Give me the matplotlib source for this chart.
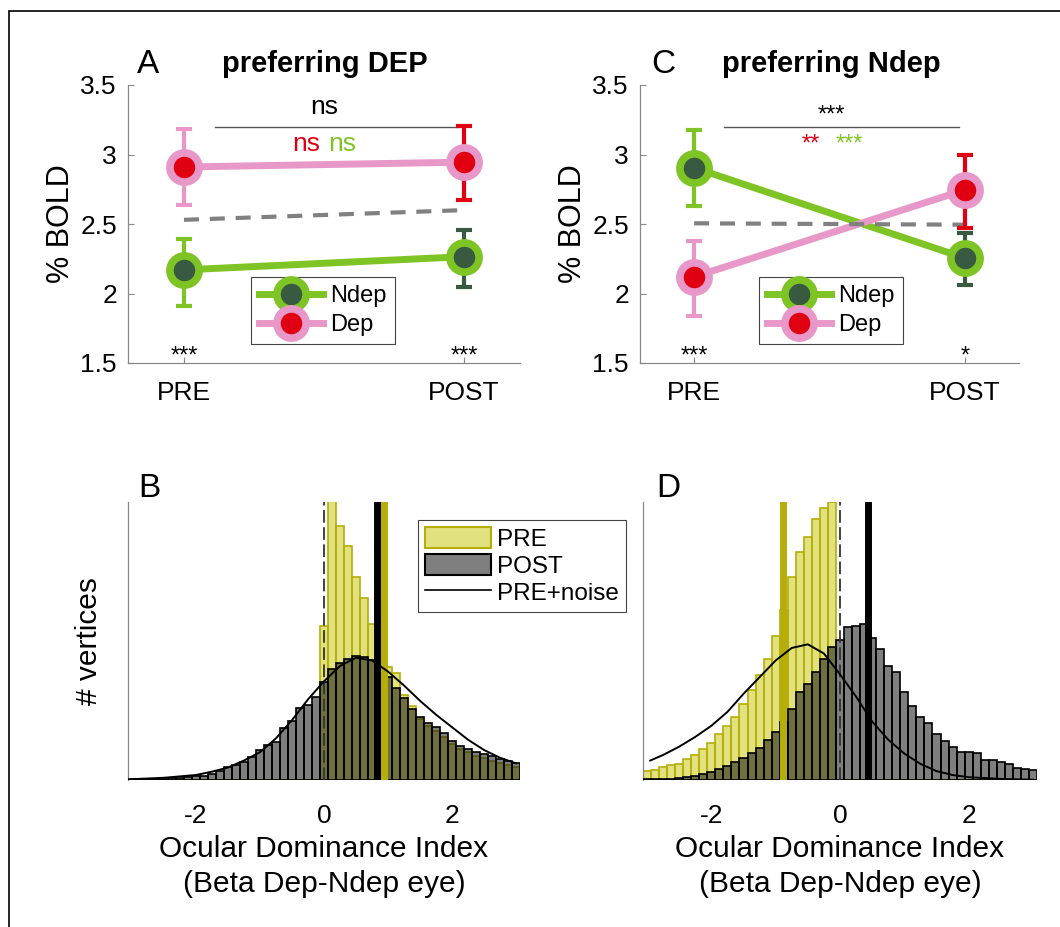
import numpy as np
import matplotlib
matplotlib.use('Agg')
import matplotlib.pyplot as plt
from matplotlib.lines import Line2D
from matplotlib.patches import Patch, Rectangle

plt.rcParams['font.family'] = ['Liberation Sans', 'DejaVu Sans']

# ---- top row data: % BOLD at PRE / POST ----
sessions = ['PRE', 'POST']
xpos = [1, 2]

# A: vertices preferring DEP
a_ndep = [2.17, 2.265]
a_ndep_lo = [1.91, 2.05]
a_ndep_hi = [2.39, 2.46]
a_dep = [2.91, 2.945]
a_dep_lo = [2.64, 2.675]
a_dep_hi = [3.18, 3.205]
a_avg = [2.53, 2.60]

# C: vertices preferring Ndep
c_ndep = [2.905, 2.255]
c_ndep_lo = [2.63, 2.06]
c_ndep_hi = [3.175, 2.435]
c_dep = [2.12, 2.745]
c_dep_lo = [1.84, 2.47]
c_dep_hi = [2.38, 3.0]
c_avg = [2.505, 2.495]

# ---- bottom row data: ODI histograms (normalised counts) ----
bin_centers = np.arange(-3, 3.0001, 0.125)
bin_w = 0.125

b_pre = [0] * 24 + [0.555, 1.25, 0.914, 0.843, 0.729, 0.653, 0.56, 0.48, 0.408, 0.384,
                    0.306, 0.266, 0.22, 0.195, 0.175, 0.155, 0.13, 0.11, 0.1, 0.085,
                    0.078, 0.07, 0.062, 0.055, 0.048]
b_post = [0.002, 0.002, 0.003, 0.004, 0.005, 0.007, 0.007, 0.009, 0.013, 0.016,
          0.021, 0.033, 0.045, 0.054, 0.066, 0.082, 0.108, 0.126, 0.138, 0.186,
          0.212, 0.258, 0.27, 0.30,
          0.351, 0.40, 0.42, 0.435, 0.446, 0.441, 0.43, 0.42, 0.37, 0.332,
          0.294, 0.255, 0.228, 0.204, 0.19, 0.169, 0.141, 0.121, 0.113, 0.099,
          0.092, 0.085, 0.076, 0.067, 0.062]
b_noise_x = [-3, -2.5, -2, -1.75, -1.5, -1.25, -1, -0.75, -0.5, -0.25, 0, 0.25, 0.5,
             0.75, 1.0, 1.25, 1.5, 1.75, 2.0, 2.25, 2.5, 2.75, 3.0]
b_noise_y = [0.003, 0.008, 0.018, 0.03, 0.045, 0.07, 0.1, 0.15, 0.215, 0.29, 0.355,
             0.41, 0.44, 0.43, 0.39, 0.34, 0.285, 0.235, 0.19, 0.145, 0.108, 0.08, 0.06]
b_pre_mean = 0.93
b_post_mean = 0.83

d_pre = [0.032, 0.035, 0.048, 0.054, 0.059, 0.076, 0.09, 0.112, 0.132, 0.164,
         0.195, 0.228, 0.272, 0.324, 0.378, 0.434, 0.519, 0.61, 0.73, 0.819,
         0.875, 0.939, 0.977, 1.0] + [0] * 25
d_post = [0.002, 0.002, 0.004, 0.005, 0.006, 0.011, 0.014, 0.020, 0.030, 0.040,
          0.052, 0.066, 0.078, 0.096, 0.114, 0.144, 0.174, 0.21, 0.255, 0.315,
          0.345, 0.39, 0.435, 0.478,
          0.504, 0.552, 0.554, 0.561, 0.512, 0.47, 0.411, 0.387, 0.315, 0.267,
          0.228, 0.204, 0.164, 0.141, 0.12, 0.1, 0.1, 0.096, 0.072, 0.072,
          0.064, 0.056, 0.044, 0.04, 0.035]
d_noise_x = [-2.95, -2.75, -2.5, -2.25, -2.0, -1.75, -1.5, -1.25, -1.0, -0.75, -0.5,
             -0.25, 0, 0.25, 0.5, 0.75, 1.0, 1.25, 1.5, 1.75, 2.0, 2.5, 3.0]
d_noise_y = [0.07, 0.09, 0.12, 0.155, 0.195, 0.245, 0.31, 0.37, 0.43, 0.475, 0.488,
             0.455, 0.38, 0.30, 0.21, 0.145, 0.095, 0.058, 0.032, 0.018, 0.01, 0.004, 0.001]
d_pre_mean = -0.88
d_post_mean = 0.44

# colours
green = '#7fc425'
dkgreen = '#375a40'
pink = '#e898c8'
red = '#e00012'
olive = '#b5ae08'
pre_face = (0.78, 0.77, 0.0, 0.5)
post_face = (0.0, 0.0, 0.0, 0.5)

W, H = 1060, 927
fig = plt.figure(figsize=(W / 100, H / 100), dpi=100)


def px_axes(l, t, r, b):
    return fig.add_axes([l / W, 1 - b / H, (r - l) / W, (b - t) / H])


def bold_panel(ax, ndep, ndep_lo, ndep_hi, dep, dep_lo, dep_hi, avg):
    ax.plot(xpos, ndep, color=green, lw=5, zorder=2)
    ax.plot(xpos, dep, color=pink, lw=5, zorder=2.1)
    ax.plot(xpos, avg, color='#808080', lw=3, dashes=(3.6, 2.6), zorder=2.5)
    ecol_ndep = [green, dkgreen]
    ecol_dep = [pink, red]
    for i in range(2):
        ax.errorbar(xpos[i], ndep[i], yerr=[[ndep[i] - ndep_lo[i]], [ndep_hi[i] - ndep[i]]],
                    color=ecol_ndep[i], elinewidth=3, capsize=6, capthick=3, zorder=3)
        ax.errorbar(xpos[i], dep[i], yerr=[[dep[i] - dep_lo[i]], [dep_hi[i] - dep[i]]],
                    color=ecol_dep[i], elinewidth=3, capsize=6, capthick=3, zorder=3.1)
    ax.plot(xpos, ndep, 'o', ms=21, mfc=dkgreen, mec=green, mew=5.5, zorder=4)
    ax.plot(xpos, dep, 'o', ms=21, mfc=red, mec=pink, mew=5.5, zorder=4.1)

    ax.set_xlim(0.8, 2.2)
    ax.set_ylim(1.5, 3.5)
    ax.set_xticks(xpos)
    ax.set_xticklabels(sessions)
    ax.set_yticks([1.5, 2, 2.5, 3, 3.5])
    ax.set_yticklabels(['1.5', '2', '2.5', '3', '3.5'])
    ax.tick_params(direction='in', length=4, width=0.8, color='#888888', labelsize=19)
    ax.tick_params(axis='y', pad=8)
    ax.tick_params(axis='x', pad=13)
    for s in ['top', 'right']:
        ax.spines[s].set_visible(False)
    for s in ['left', 'bottom']:
        ax.spines[s].set_color('#888888')
        ax.spines[s].set_linewidth(0.9)
    ax.set_ylabel('% BOLD', fontsize=22, labelpad=3)
    ax.plot([1.11, 1.98], [3.2, 3.2], color='#555555', lw=1)

    handles = [Line2D([], [], color=green, lw=5, marker='o', ms=21, mfc=dkgreen, mec=green, mew=5.5),
               Line2D([], [], color=pink, lw=5, marker='o', ms=21, mfc=red, mec=pink, mew=5.5)]
    leg = ax.legend(handles, ['Ndep', 'Dep'], loc='upper left', bbox_to_anchor=(0.314, 0.31),
                    fontsize=17, handlelength=2.7, handletextpad=0.3, labelspacing=0.3,
                    borderpad=0.35, borderaxespad=0, fancybox=False, framealpha=1)
    leg.get_frame().set_edgecolor('#444444')
    leg.get_frame().set_linewidth(0.8)


def hist_panel(ax, pre, post, nx, ny, pre_mean, post_mean):
    ax.bar(bin_centers, pre, width=bin_w, facecolor=pre_face, edgecolor=olive, lw=1.2, zorder=2)
    ax.bar(bin_centers, post, width=bin_w, facecolor=post_face, edgecolor='black', lw=1.2, zorder=3)
    ax.axvline(0, color='#333333', lw=1.3, dashes=(7, 2.5), zorder=4)
    ax.axvline(pre_mean, color=olive, lw=5, zorder=4)
    ax.axvline(post_mean, color='black', lw=5, zorder=4)
    ax.plot(nx, ny, color='black', lw=1.4, zorder=5)
    ax.set_xlim(-3.0625, 3.0625)
    ax.set_ylim(0, 1.0)
    ax.set_xticks([-2, 0, 2])
    ax.set_xticklabels(['-2', '0', '2'])
    ax.set_yticks([])
    ax.tick_params(axis='x', length=0, pad=17, labelsize=19)
    for s in ['top', 'right', 'bottom']:
        ax.spines[s].set_visible(False)
    ax.spines['left'].set_color('#888888')
    ax.spines['left'].set_linewidth(0.9)
    ax.set_xlabel('Ocular Dominance Index\n(Beta Dep-Ndep eye)', fontsize=21.5,
                  labelpad=5, linespacing=1.35)


axA = px_axes(128, 85, 520, 363)
bold_panel(axA, a_ndep, a_ndep_lo, a_ndep_hi, a_dep, a_dep_lo, a_dep_hi, a_avg)
axA.text(1.5, 3.29, 'ns', ha='center', va='baseline', fontsize=19)
axA.text(1.435, 3.027, 'ns', ha='center', va='baseline', fontsize=19, color=red)
axA.text(1.565, 3.027, 'ns', ha='center', va='baseline', fontsize=19, color=green)
axA.text(1.0, 1.50, '***', ha='center', va='baseline', fontsize=17)
axA.text(2.0, 1.50, '***', ha='center', va='baseline', fontsize=17)

axC = px_axes(640, 85, 1019, 363)
bold_panel(axC, c_ndep, c_ndep_lo, c_ndep_hi, c_dep, c_dep_lo, c_dep_hi, c_avg)
axC.text(1.506, 3.236, '***', ha='center', va='baseline', fontsize=17)
axC.text(1.43, 3.027, '**', ha='center', va='baseline', fontsize=17, color=red)
axC.text(1.575, 3.027, '***', ha='center', va='baseline', fontsize=17, color=green)
axC.text(1.0, 1.50, '***', ha='center', va='baseline', fontsize=17)
axC.text(2.0, 1.50, '*', ha='center', va='baseline', fontsize=17)

axB = px_axes(128, 502, 520, 780)
hist_panel(axB, b_pre, b_post, b_noise_x, b_noise_y, b_pre_mean, b_post_mean)
axB.set_ylabel('# vertices', fontsize=21.5, labelpad=18)
hleg = [Patch(facecolor=pre_face, edgecolor=olive, lw=1.5),
        Patch(facecolor=post_face, edgecolor='black', lw=1.5),
        Line2D([], [], color='black', lw=1.2)]
leg = axB.legend(hleg, ['PRE', 'POST', 'PRE+noise'], loc='upper left',
                 bbox_to_anchor=(0.74, 0.935), fontsize=17.5, handlelength=2.7,
                 handleheight=0.95, handletextpad=0.25, labelspacing=0.12,
                 borderpad=0.3, borderaxespad=0, fancybox=False, framealpha=1)
leg.get_frame().set_edgecolor('#444444')
leg.get_frame().set_linewidth(0.8)
leg.set_zorder(10)

axD = px_axes(643, 502, 1037, 780)
hist_panel(axD, d_pre, d_post, d_noise_x, d_noise_y, d_pre_mean, d_post_mean)

# titles and panel letters
fig.text(325 / W, 1 - 72 / H, 'preferring DEP', ha='center', va='baseline', fontsize=21, fontweight='bold')
fig.text(831 / W, 1 - 72 / H, 'preferring Ndep', ha='center', va='baseline', fontsize=21, fontweight='bold')
for lab, x, y in [('A', 137, 73), ('C', 651, 73), ('B', 138, 497), ('D', 656, 497)]:
    fig.text(x / W, 1 - y / H, lab, ha='left', va='baseline', fontsize=24)

# outer frame
fig.patches.append(Rectangle((9 / W, -0.1), 1.2, 1.1 - 11 / H, transform=fig.transFigure,
                             fill=False, ec='black', lw=1.2))

fig.savefig('out.png', dpi=100)
